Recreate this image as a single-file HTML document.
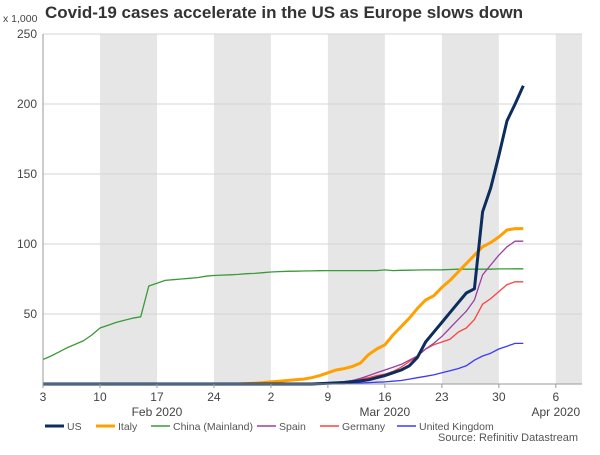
<!DOCTYPE html>
<html><head><meta charset="utf-8"><style>
body{margin:0;background:#fff;font-family:"Liberation Sans",sans-serif}
svg text{font-family:"Liberation Sans",sans-serif}
</style></head><body>
<svg id="c" width="600" height="450" viewBox="0 0 600 450">
<text x="45" y="18" font-size="17" font-weight="bold" fill="#333">Covid-19 cases accelerate in the US as Europe slows down</text>
<text x="3" y="22" font-size="10.5" fill="#444">x 1,000</text>
<g id="bands"></g><g id="grid"></g><g id="lines"></g><g id="axes"></g>
<text x="578" y="441" font-size="11" fill="#555" text-anchor="end">Source: Refinitiv Datastream</text>
</svg>
<script>
const yTicks=[50,100,150,200,250];
const xTickLabels=["3","10","17","24","2","9","16","23","30","6"];
const monthLabels=["Feb 2020","Mar 2020","Apr 2020"];
const monthDays=[14,42,63];
const us=[0,0,0,0,0,0,0,0,0,0,0,0,0,0,0,0,0,0,0,0,0,0,0,0,0,0,0,0,0,0,0,0,0,0,0.3,0.5,0.8,1.1,1.6,2.2,3,4.5,6,8,10,13,19,30,37,44,51,58,65,68,123,140,163,188,200,213];
const italy=[0,0,0,0,0,0,0,0,0,0,0,0,0,0,0,0,0,0,0,0,0,0,0,0,0,0.3,0.6,1,1.5,2,2.5,3,3.5,4.5,6,8,10,11,12.5,15,21,25,28,35,41,47,54,60,63,69,74,80,86,92,98,101,105,110,111,111];
const china=[17.5,20,23,26,28.5,31,35,40,42,44,45.5,47,48,70,72,74,74.5,75,75.5,76,77,77.5,77.8,78,78.3,78.8,79,79.5,80,80.3,80.5,80.6,80.7,80.8,80.9,81,81,81,81,81,81,81,81.5,81,81.2,81.3,81.4,81.5,81.5,81.6,81.8,82,82,82,82,82,82.2,82.2,82.3,82.3];
const spain=[0,0,0,0,0,0,0,0,0,0,0,0,0,0,0,0,0,0,0,0,0,0,0,0,0,0,0,0,0,0,0,0,0,0,0.4,0.6,1,1.7,2.5,4,6,8,10,12,14,17,20,25,29,34,40,46,52,60,78,85,92,98,102,102];
const germany=[0,0,0,0,0,0,0,0,0,0,0,0,0,0,0,0,0,0,0,0,0,0,0,0,0,0,0,0,0,0,0,0,0,0,0.5,0.8,1.2,1.6,2.5,3.5,4.5,6,7,9,12,16,20,25,28,30,32,37,40,46,57,61,66,71,73,73];
const uk=[0,0,0,0,0,0,0,0,0,0,0,0,0,0,0,0,0,0,0,0,0,0,0,0,0,0,0,0,0,0,0,0,0,0,0,0,0,0,0.4,0.8,1,1.3,1.5,2,2.5,3.5,4.5,5.5,6.5,8,9.5,11,13,17,20,22,25,27,29,29];
const seriesNames=["US","Italy","China (Mainland)","Spain","Germany","United Kingdom"];
const seriesData=[us,italy,china,spain,germany,uk];
const colors=["#0d2d5e","#ffa000","#3a9a3a","#9b3fa3","#ff4040","#3a3aff"];
const widths=[3,3,1.3,1.3,1.3,1.3];
const NS="http://www.w3.org/2000/svg";
const x0=43,x1=582,y0=384,yTop=34,dayW=8.14;
const X=d=>x0+d*dayW, Y=v=>y0-(v/250)*(y0-yTop);
function mk(tag,attrs,parent){const e=document.createElementNS(NS,tag);for(const k in attrs)e.setAttribute(k,attrs[k]);document.getElementById(parent).appendChild(e);return e;}
for(let w=1;w<10;w+=2){const a=X(w*7),b=Math.min(X(w*7+7),x1);
const r=mk('rect',{x:a,y:yTop,width:b-a,height:y0-yTop,fill:'#e6e6e6'},'bands');

}
yTicks.forEach(v=>{const l=mk('line',{x1:x0,x2:x1,y1:Y(v),y2:Y(v),stroke:'#d4d4d4','stroke-width':1},'grid');


const t=mk('text',{x:37,y:Y(v)+4,'font-size':12,fill:'#444','text-anchor':'end'},'axes');t.textContent=v;

});
const ax=mk('path',{d:`M${x0} ${yTop}V${y0}H${x1}`,stroke:'#999',fill:'none'},'axes');


xTickLabels.forEach((s,i)=>{const x=X(i*7);
const tk=mk('line',{x1:x,x2:x,y1:y0,y2:y0+4,stroke:'#999'},'axes');


const t=mk('text',{x:x,y:401,'font-size':12,fill:'#444','text-anchor':'middle'},'axes');t.textContent=s;

});
monthLabels.forEach((s,i)=>{const t=mk('text',{x:X(monthDays[i]),y:416,'font-size':12,fill:'#444','text-anchor':'middle'},'axes');t.textContent=s;

});
[2,5,4,3,1,0].forEach(i=>{const d=seriesData[i].map((v,k)=>(k?'L':'M')+X(k).toFixed(1)+' '+Y(v).toFixed(1)).join('');
const p=mk('path',{d:d,stroke:colors[i],'stroke-width':widths[i],fill:'none','stroke-linejoin':'round'},'lines');

});
const lx=[45,96,151,257,320,397];
seriesNames.forEach((s,i)=>{
const l=mk('line',{x1:lx[i],x2:lx[i]+19,y1:426,y2:426,stroke:colors[i],'stroke-width':i<2?3:1.5},'axes');


const t=mk('text',{x:lx[i]+22,y:430,'font-size':10.5,fill:'#555'},'axes');t.textContent=s;

});
</script>
</body></html>
